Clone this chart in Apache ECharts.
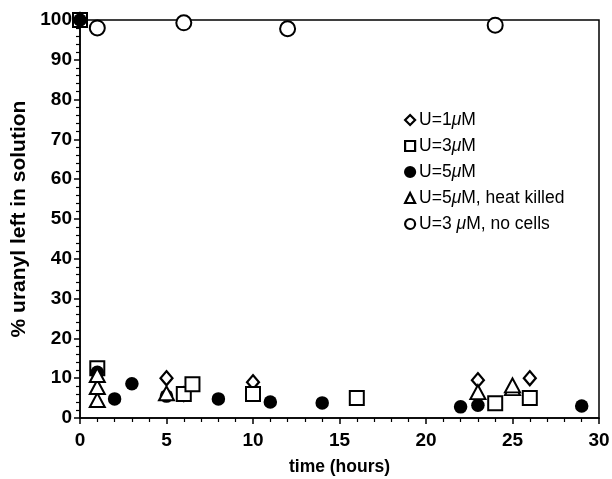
<!DOCTYPE html>
<html>
<head>
<meta charset="utf-8">
<script src="https://cdn.jsdelivr.net/npm/echarts@6/dist/echarts.min.js"></script>
<style>
  html, body { margin: 0; padding: 0; background: #fff; }
  #plot { width: 612px; height: 479px; }
</style>
</head>
<body>
<div id="plot"></div>
<script>
// 数据 (time in hours, % uranyl left)
var u1 = [[0, 100], [1, 11], [5, 10], [6, 6], [10, 9], [23, 9.5], [26, 10]];
var u3 = [[0, 100], [1, 12.5], [6, 6], [6.5, 8.5], [10, 6], [16, 5], [24, 3.7], [26, 5]];
var u5 = [[0, 100], [1, 11.5], [2, 4.8], [3, 8.6], [5, 5.5], [8, 4.8], [11, 4], [14, 3.8], [22, 2.8], [23, 3.2], [29, 3]];
var u5killed = [[1, 4.5], [1, 7.8], [1, 10.8], [5, 6.2], [23, 6.5], [25, 7.5], [25, 8.2]];
var u3nocells = [[1, 98], [6, 99.3], [12, 97.8], [24, 98.7]];

var names = ['U=1μM', 'U=3μM', 'U=5μM', 'U=5μM, heat killed', 'U=3 μM, no cells'];

var font = 'Liberation Sans, Arial, Helvetica, sans-serif';

var myChart = echarts.init(document.getElementById('plot'));

function openStyle(w) {
  return { color: '#fff', borderColor: '#000', borderWidth: w, opacity: 1 };
}

var option = {
  animation: false,
  backgroundColor: '#fff',
  grid: {
    left: 80, right: 13, top: 20, bottom: 61,
    containLabel: false,
    outerBoundsMode: 'none',
    show: true, borderColor: '#000', borderWidth: 1.5
  },
  legend: {
    orient: 'vertical',
    left: 404,
    top: 111,
    itemGap: 8,
    itemWidth: 10,
    itemHeight: 10,
    padding: 0,
    itemStyle: { borderWidth: 2.2 },
    textStyle: {
      fontFamily: font, fontSize: 17.5, color: '#000', padding: [0, 0, 0, -1],
      rich: { i: { fontFamily: font, fontSize: 17.5, fontStyle: 'italic', color: '#000' } }
    },
    formatter: function (n) { return n.replace('μ', '{i|μ}'); },
    data: names
  },
  xAxis: {
    type: 'value',
    min: 0, max: 30, interval: 5,
    name: 'time (hours)',
    nameLocation: 'middle',
    nameGap: 40,
    nameTextStyle: { fontFamily: font, fontSize: 17.5, fontWeight: 'bold', color: '#000' },
    axisLine: { lineStyle: { color: '#000', width: 1.5 } },
    axisTick: { length: 6, lineStyle: { color: '#000', width: 1.5 } },
    minorTick: { show: true, splitNumber: 5, length: 4, lineStyle: { color: '#000', width: 1.2 } },
    splitLine: { show: false },
    axisLabel: { fontFamily: font, fontSize: 19, fontWeight: 'bold', color: '#000', margin: 13 }
  },
  yAxis: {
    type: 'value',
    min: 0, max: 100, interval: 10,
    name: '% uranyl left in solution',
    nameLocation: 'middle',
    nameGap: 47,
    nameTextStyle: { fontFamily: font, fontSize: 21, fontWeight: 'bold', color: '#000' },
    axisLine: { lineStyle: { color: '#000', width: 1.5 } },
    axisTick: { length: 6, lineStyle: { color: '#000', width: 1.5 } },
    minorTick: { show: true, splitNumber: 5, length: 4, lineStyle: { color: '#000', width: 1.2 } },
    splitLine: { show: false },
    axisLabel: { fontFamily: font, fontSize: 19, fontWeight: 'bold', color: '#000', margin: 8 }
  },
  series: [
    {
      name: names[0], type: 'scatter', data: u1,
      symbol: 'diamond', symbolSize: [12, 14],
      itemStyle: openStyle(2.2)
    },
    {
      name: names[1], type: 'scatter', data: u3,
      symbol: 'rect', symbolSize: 14,
      itemStyle: openStyle(2)
    },
    {
      name: names[2], type: 'scatter', data: u5,
      symbol: 'circle', symbolSize: 13.5,
      itemStyle: { color: '#000', borderColor: '#000', borderWidth: 0, opacity: 1 }
    },
    {
      name: names[3], type: 'scatter', data: u5killed,
      symbol: 'triangle', symbolSize: [15, 14],
      itemStyle: openStyle(2)
    },
    {
      name: names[4], type: 'scatter', data: u3nocells,
      symbol: 'circle', symbolSize: 15,
      itemStyle: openStyle(2)
    }
  ]
};

myChart.setOption(option);
</script>
</body>
</html>
